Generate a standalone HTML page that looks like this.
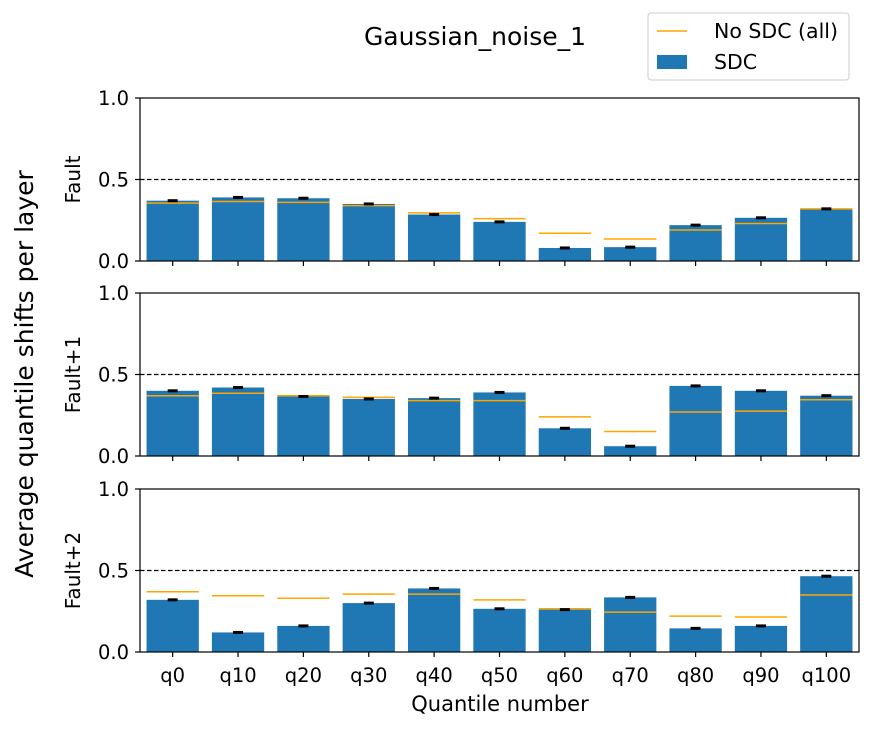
<!DOCTYPE html>
<html><head><meta charset="utf-8"><style>body{margin:0;background:#fff}svg{display:block;font-family:"DejaVu Sans","Liberation Sans",sans-serif}</style></head>
<body>
<svg id="c" width="874" height="730"></svg>
<script>
const categories=["q0","q10","q20","q30","q40","q50","q60","q70","q80","q90","q100"];
const panelLabels=["Fault","Fault+1","Fault+2"];
const sdc0=[0.37,0.39,0.385,0.35,0.285,0.24,0.08,0.085,0.22,0.265,0.32];
const nosdc0=[0.355,0.365,0.36,0.34,0.295,0.26,0.17,0.135,0.19,0.23,0.32];
const sdc1=[0.40,0.42,0.365,0.35,0.355,0.39,0.17,0.06,0.43,0.40,0.37];
const nosdc1=[0.37,0.385,0.37,0.36,0.34,0.34,0.24,0.15,0.27,0.275,0.345];
const sdc2=[0.32,0.12,0.16,0.30,0.39,0.265,0.26,0.335,0.145,0.16,0.465];
const nosdc2=[0.37,0.345,0.33,0.355,0.355,0.32,0.265,0.245,0.22,0.215,0.35];
const yTicks=[0.0,0.5,1.0];
const sdcAll=[sdc0,sdc1,sdc2], noAll=[nosdc0,nosdc1,nosdc2];
const svg=document.getElementById('c');const NS="http://www.w3.org/2000/svg";
function mk(t,a,p){const e=document.createElementNS(NS,t);for(const k in a)e.setAttribute(k,a[k]);(p||svg).appendChild(e);return e;}
const X0=140,X1=859,tops=[98,293,489],H=163;
const step=(X1-X0)/categories.length,bw=step*0.8;
const xc=i=>X0+step*(i+0.5);
tops.forEach((top,p)=>{
  const y=v=>top+H-v*H;
  const g=mk('g',{});
  
  
  sdcAll[p].forEach((v,i)=>{
    const r=mk('rect',{x:xc(i)-bw/2,y:y(v),width:bw,height:v*H,fill:'#1f77b4'},g);
    
    
  });
  noAll[p].forEach((v,i)=>{
    const l=mk('line',{x1:xc(i)-bw/2,x2:xc(i)+bw/2,y1:y(v),y2:y(v),stroke:'#ffa500','stroke-width':1.5},g);
    
    
  });
  sdcAll[p].forEach((v,i)=>{
    const e=mk('line',{x1:xc(i)-5,x2:xc(i)+5,y1:y(v),y2:y(v),stroke:'#000','stroke-width':3},g);
    
    
  });
  const d=mk('line',{x1:X0,x2:X1,y1:y(0.5),y2:y(0.5),stroke:'#000','stroke-width':1.3,'stroke-dasharray':'4.5,2.5'},g);
  
  const f=mk('rect',{x:X0,y:top,width:X1-X0,height:H,fill:'none',stroke:'#000','stroke-width':1.2},g);
  
  yTicks.forEach(t=>{
    mk('line',{x1:X0-5,x2:X0,y1:y(t),y2:y(t),stroke:'#000','stroke-width':1.2},g);
    const tx=mk('text',{x:X0-11,y:y(t)+7,'text-anchor':'end','font-size':19.5},g);tx.textContent=t.toFixed(1);
    
  });
  categories.forEach((c,i)=>{
    mk('line',{x1:xc(i),x2:xc(i),y1:top+H,y2:top+H+5,stroke:'#000','stroke-width':1.2},g);
    if(p===2){const tx=mk('text',{x:xc(i),y:top+H+30,'text-anchor':'middle','font-size':19.5},g);tx.textContent=c;
      }
  });
  const yl=mk('text',{x:0,y:0,transform:`translate(80,${top+H/2}) rotate(-90)`,'text-anchor':'middle','font-size':20},g);
  yl.textContent=panelLabels[p];
});
</script>
<svg style="position:absolute;left:0;top:0" width="874" height="730">
<text x="475" y="45" text-anchor="middle" font-size="25" font-family="DejaVu Sans,sans-serif">Gaussian_noise_1</text>
<text x="500" y="711" text-anchor="middle" font-size="21" font-family="DejaVu Sans,sans-serif">Quantile number</text>
<text transform="translate(33,374) rotate(-90)" text-anchor="middle" font-size="25" font-family="DejaVu Sans,sans-serif">Average quantile shifts per layer</text>
<g font-family="DejaVu Sans,sans-serif">
<rect x="648" y="13" width="201" height="67" rx="3" fill="#fff" stroke="#ccc"/>
<line x1="657" x2="687" y1="31" y2="31" stroke="#ffa500" stroke-width="1.5"/>
<text x="714" y="38" font-size="20.5">No SDC (all)</text>
<rect x="657" y="55" width="30" height="14" fill="#1f77b4"/>
<text x="714" y="69" font-size="20.5">SDC</text>
</g>
</svg>
</body></html>
